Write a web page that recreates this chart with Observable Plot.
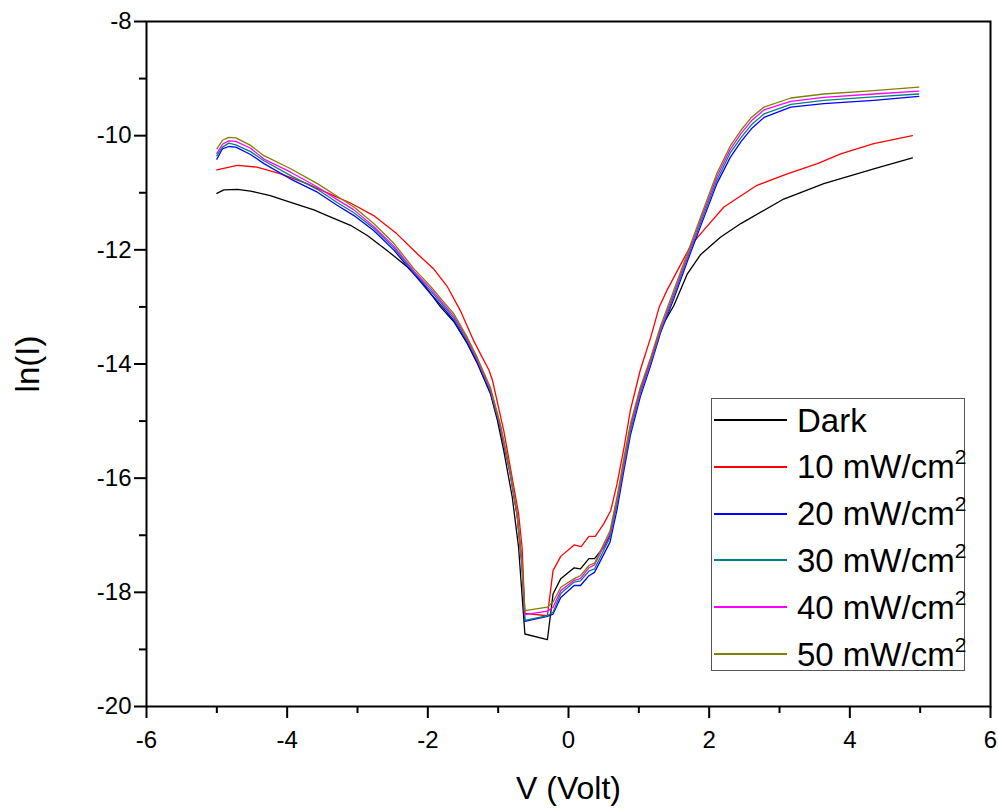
<!DOCTYPE html>
<html>
<head>
<meta charset="utf-8">
<script src="https://cdn.jsdelivr.net/npm/d3@7"></script>
<script src="https://cdn.jsdelivr.net/npm/@observablehq/plot@0.6"></script>
<style>
  html, body { margin: 0; padding: 0; background: #fff; }
  #wrap { position: relative; width: 998px; height: 808px; font-family: "Liberation Sans", Arial, sans-serif; }
  #legend { position: absolute; left: 711px; top: 398px; width: 254px; height: 273px; border: 1px solid #555; box-sizing: border-box; background: #fff; }
  .row { position: absolute; left: 0; height: 46px; display: flex; align-items: center; }
  .sw { width: 73px; height: 2px; margin-left: 2px; }
  .lab { margin-left: 10px; font-size: 33px; line-height: 1; color: #000; white-space: nowrap; }
  .lab sup { font-size: 21px; vertical-align: 0; position: relative; top: -14px; }
</style>
</head>
<body>
<div id="wrap"></div>
<script>
// ---- data ----
const seriesNames = ["Dark", "10 mW/cm2", "20 mW/cm2", "30 mW/cm2", "40 mW/cm2", "50 mW/cm2"];
const seriesColors = ["#000000", "#ff0000", "#0000ff", "#008080", "#ff00ff", "#808000"];

const xDark = [-5.0,-4.9,-4.71,-4.52,-4.24,-3.95,-3.62,-3.43,-3.1,-2.86,-2.58,-2.29,-2.06,-1.82,-1.63,-1.44,-1.3,-1.11,-1.01,-0.92,-0.8,-0.71,-0.62,-0.3,-0.22,-0.11,0.08,0.17,0.29,0.37,0.5,0.59,0.69,0.79,0.88,1.02,1.17,1.31,1.5,1.69,1.88,2.16,2.45,3.06,3.63,4.34,4.89];
const yDark = [-11.01,-10.95,-10.94,-10.97,-11.05,-11.17,-11.30,-11.40,-11.57,-11.75,-12.01,-12.30,-12.60,-13.00,-13.26,-13.64,-13.98,-14.52,-14.99,-15.52,-16.33,-17.21,-18.73,-18.83,-18.03,-17.76,-17.57,-17.59,-17.41,-17.41,-17.21,-17.00,-16.40,-15.70,-15.10,-14.45,-13.92,-13.38,-12.97,-12.42,-12.08,-11.78,-11.54,-11.11,-10.84,-10.58,-10.39];

const x10 = [-5.0,-4.71,-4.43,-4.09,-3.72,-3.34,-3.10,-2.77,-2.44,-2.15,-1.92,-1.72,-1.54,-1.35,-1.13,-1.08,-0.92,-0.71,-0.66,-0.62,-0.3,-0.22,-0.11,0.08,0.18,0.29,0.38,0.5,0.6,0.69,0.79,0.88,1.02,1.17,1.29,1.4,1.55,1.74,1.92,2.21,2.68,3.11,3.54,3.87,4.34,4.89];
const y10 = [-10.60,-10.52,-10.55,-10.67,-10.84,-11.05,-11.18,-11.40,-11.72,-12.07,-12.33,-12.65,-13.06,-13.59,-14.11,-14.29,-15.17,-16.62,-17.21,-18.37,-18.41,-17.62,-17.37,-17.17,-17.20,-17.02,-17.02,-16.80,-16.57,-16.10,-15.46,-14.81,-14.11,-13.53,-13.00,-12.71,-12.36,-11.92,-11.66,-11.25,-10.87,-10.67,-10.49,-10.32,-10.14,-10.0];

const xLight = [-5.0,-4.92,-4.83,-4.73,-4.52,-4.33,-3.95,-3.57,-3.29,-3.05,-2.77,-2.48,-2.2,-1.96,-1.77,-1.63,-1.44,-1.3,-1.11,-0.97,-0.83,-0.73,-0.66,-0.62,-0.3,-0.22,-0.11,0.08,0.17,0.29,0.37,0.59,0.69,0.79,0.88,1.02,1.17,1.31,1.5,1.69,1.88,2.11,2.3,2.45,2.6,2.78,3.16,3.63,4.34,4.98];
const y20 = [-10.41,-10.23,-10.19,-10.20,-10.33,-10.49,-10.76,-10.99,-11.22,-11.40,-11.66,-12.01,-12.42,-12.77,-13.03,-13.24,-13.62,-13.96,-14.50,-15.12,-15.92,-16.66,-17.55,-18.51,-18.42,-18.38,-18.09,-17.88,-17.88,-17.71,-17.65,-17.12,-16.55,-15.85,-15.25,-14.58,-14.02,-13.45,-12.85,-12.20,-11.58,-10.84,-10.38,-10.11,-9.88,-9.68,-9.50,-9.44,-9.38,-9.31];
const y30 = [-10.35,-10.20,-10.13,-10.16,-10.28,-10.44,-10.70,-10.94,-11.17,-11.35,-11.62,-11.97,-12.39,-12.72,-12.99,-13.20,-13.59,-13.93,-14.47,-15.10,-15.90,-16.65,-17.53,-18.49,-18.41,-18.35,-18.02,-17.82,-17.80,-17.63,-17.59,-17.04,-16.46,-15.77,-15.18,-14.52,-13.97,-13.42,-12.80,-12.15,-11.52,-10.78,-10.30,-10.04,-9.81,-9.62,-9.45,-9.38,-9.32,-9.27];
const y40 = [-10.31,-10.15,-10.09,-10.10,-10.22,-10.41,-10.64,-10.90,-11.12,-11.30,-11.59,-11.94,-12.37,-12.68,-12.96,-13.16,-13.56,-13.91,-14.44,-15.07,-15.89,-16.64,-17.52,-18.39,-18.33,-18.26,-17.97,-17.79,-17.76,-17.57,-17.52,-16.97,-16.39,-15.70,-15.11,-14.47,-13.93,-13.38,-12.75,-12.11,-11.47,-10.72,-10.24,-9.97,-9.74,-9.55,-9.40,-9.33,-9.27,-9.22];
const y50 = [-10.23,-10.08,-10.03,-10.04,-10.17,-10.35,-10.58,-10.84,-11.06,-11.25,-11.54,-11.89,-12.33,-12.64,-12.92,-13.12,-13.53,-13.88,-14.41,-15.05,-15.87,-16.62,-17.50,-18.32,-18.26,-18.17,-17.91,-17.76,-17.71,-17.53,-17.49,-16.92,-16.33,-15.63,-15.05,-14.41,-13.88,-13.33,-12.70,-12.06,-11.42,-10.66,-10.18,-9.91,-9.68,-9.50,-9.34,-9.27,-9.21,-9.15];

const xTicks = [-6, -4, -2, 0, 2, 4, 6];
const xMinor = [-5, -3, -1, 1, 3, 5];
const yTicks = [-20, -18, -16, -14, -12, -10, -8];
const yMinor = [-19, -17, -15, -13, -11, -9];

// ---- build table ----
const pairs = [[xDark, yDark], [x10, y10], [xLight, y20], [xLight, y30], [xLight, y40], [xLight, y50]];
const table = [];
pairs.forEach(([xs, ys], i) => xs.forEach((v, j) => table.push({V: v, lnI: ys[j], series: seriesNames[i]})));

const chart = Plot.plot({
  width: 998,
  height: 808,
  marginLeft: 146,
  marginRight: 8,
  marginTop: 21,
  marginBottom: 102,
  style: {fontFamily: "'Liberation Sans', Arial, sans-serif", background: "white", color: "black"},
  x: {domain: [-6, 6], label: null},
  y: {domain: [-20, -8], label: null},
  color: {domain: seriesNames, range: seriesColors},
  marks: [
    Plot.line(table, {x: "V", y: "lnI", z: "series", stroke: "series", strokeWidth: 1.3}),
    Plot.frame({stroke: "black", strokeWidth: 2}),
    Plot.axisX(xTicks, {tickSize: 12, tickPadding: 12, strokeWidth: 2, fontSize: 24, tickFormat: d => String(d), label: null}),
    Plot.axisX(xMinor, {tickSize: 7, strokeWidth: 2, tickFormat: () => "", label: null}),
    Plot.axisY(yTicks, {tickSize: 12, tickPadding: 3, strokeWidth: 2, fontSize: 24, tickFormat: d => String(d), label: null}),
    Plot.axisY(yMinor, {tickSize: 7, strokeWidth: 2, tickFormat: () => "", label: null}),
    Plot.text(["V (Volt)"], {frameAnchor: "bottom", dy: 82, fontSize: 32, textAnchor: "middle", lineAnchor: "middle"}),
    Plot.text(["ln(I)"], {frameAnchor: "left", dx: -118, rotate: -90, fontSize: 33, textAnchor: "middle", lineAnchor: "middle"})
  ]
});

const wrap = document.getElementById("wrap");
wrap.appendChild(chart);

// ---- legend ----
const legend = document.createElement("div");
legend.id = "legend";
seriesNames.forEach((name, i) => {
  const row = document.createElement("div");
  row.className = "row";
  row.style.top = (-2 + i * 46.8) + "px";
  const sw = document.createElement("div");
  sw.className = "sw";
  sw.style.background = seriesColors[i];
  const lab = document.createElement("div");
  lab.className = "lab";
  if (name.endsWith("cm2")) {
    lab.innerHTML = name.slice(0, -1) + "<sup>2</sup>";
  } else {
    lab.textContent = name;
  }
  row.appendChild(sw);
  row.appendChild(lab);
  legend.appendChild(row);
});
wrap.appendChild(legend);
</script>
</body>
</html>
